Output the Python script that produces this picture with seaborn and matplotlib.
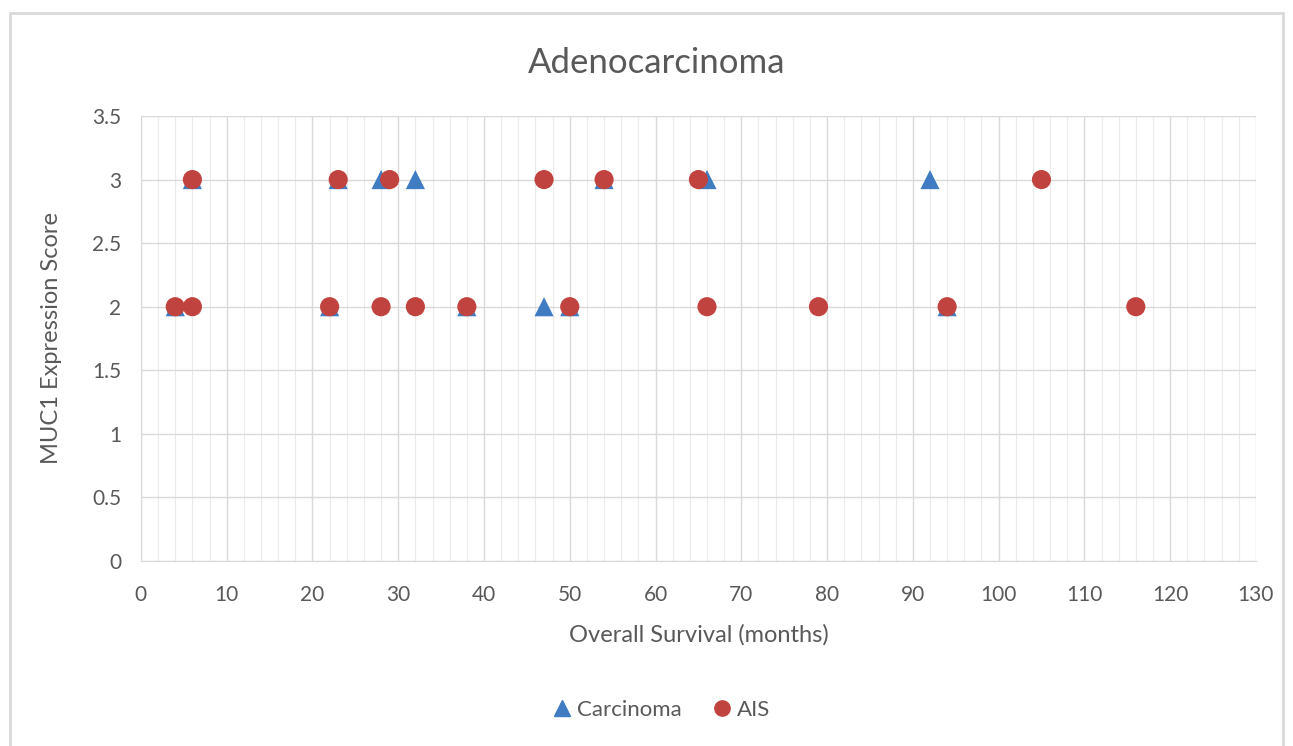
import pandas as pd
import matplotlib.pyplot as plt
import seaborn as sns
from matplotlib.patches import Rectangle
from matplotlib.lines import Line2D

# values
carc_months = [6, 23, 28, 32, 54, 66, 92, 4, 22, 38, 47, 50, 94]
carc_score = [3, 3, 3, 3, 3, 3, 3, 2, 2, 2, 2, 2, 2]
ais_months = [6, 23, 29, 47, 54, 65, 105, 4, 6, 22, 28, 32, 38, 50, 66, 79, 94, 116]
ais_score = [3, 3, 3, 3, 3, 3, 3, 2, 2, 2, 2, 2, 2, 2, 2, 2, 2, 2]

blue = "#3f7cc2"
red = "#c0433f"
grey = "#595959"

df = pd.concat([
    pd.DataFrame({"months": carc_months, "score": carc_score, "group": "Carcinoma"}),
    pd.DataFrame({"months": ais_months, "score": ais_score, "group": "AIS"}),
], ignore_index=True)

sns.set_style("white")
plt.rcParams["font.family"] = ["Lato", "DejaVu Sans"]

fig = plt.figure(figsize=(12.93, 7.46), dpi=100)
ax = fig.add_axes([0.109, 0.248, 0.8623, 0.5965])

sns.scatterplot(data=df, x="months", y="score", hue="group", style="group",
                markers={"Carcinoma": "^", "AIS": "o"},
                palette={"Carcinoma": blue, "AIS": red},
                s=190, linewidth=0, legend=False, ax=ax, zorder=3)

ax.set_xlim(0, 130)
ax.set_ylim(0, 3.5)
ax.set_xticks(range(0, 131, 10))
ax.set_xticks(range(0, 131, 2), minor=True)
ax.set_yticks([0, 0.5, 1, 1.5, 2, 2.5, 3, 3.5])
ax.set_yticklabels(["0", "0.5", "1", "1.5", "2", "2.5", "3", "3.5"])
ax.grid(True, which="major", color="#d9d9d9", linewidth=1)
ax.grid(True, which="minor", axis="x", color="#ebebeb", linewidth=0.8)
ax.set_axisbelow(True)
for side in ["top", "right"]:
    ax.spines[side].set_visible(False)
for side in ["left", "bottom"]:
    ax.spines[side].set_color("#d9d9d9")
ax.tick_params(axis="x", which="both", length=0, labelsize=15, colors=grey, pad=17)
ax.tick_params(axis="y", which="both", length=0, labelsize=15, colors=grey, pad=14)

ax.set_xlabel("Overall Survival (months)", fontsize=17, color=grey, labelpad=14)
ax.set_ylabel("MUC1 Expression Score", fontsize=17, color=grey, labelpad=22)
fig.text(0.508, 0.915, "Adenocarcinoma", fontsize=25, color=grey, ha="center", va="center")

handles = [
    Line2D([], [], marker="^", color=blue, linestyle="none", markersize=11),
    Line2D([], [], marker="o", color=red, linestyle="none", markersize=11),
]
fig.legend(handles, ["Carcinoma", "AIS"], loc="center", bbox_to_anchor=(0.51, 0.048),
           ncol=2, frameon=False, fontsize=16, labelcolor=grey,
           handletextpad=0.1, columnspacing=1.2, handlelength=1.2)

fig.patches.append(Rectangle((10 / 1293, -0.01), 1273 / 1293, 1 - 13 / 746 + 0.01,
                             transform=fig.transFigure, fill=False,
                             edgecolor="#d9d9d9", linewidth=2))

fig.savefig("out.png", dpi=100)
